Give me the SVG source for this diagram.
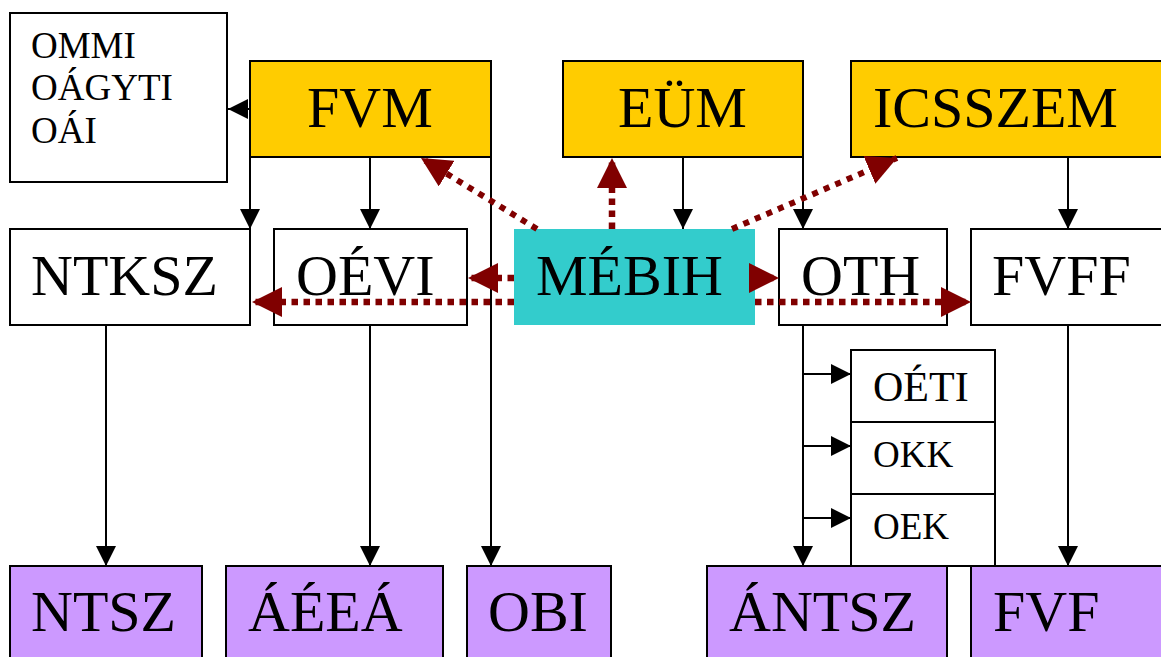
<svg xmlns="http://www.w3.org/2000/svg" width="1161" height="657" viewBox="0 0 1161 657">
<defs>
<style>
.box{stroke:#000;stroke-width:2}
.w{fill:#fff}
.y{fill:#FFCC00}
.p{fill:#CC99FF}
.t{fill:#33CCCC}
text{font-family:"Liberation Serif","Times New Roman",serif;fill:#000}
.L{font-size:58px}
.S{font-size:37px}
.M{font-size:42px}
.c{stroke:#000;stroke-width:2;fill:none;marker-end:url(#ab)}
.d{stroke:#800000;stroke-width:6.5;stroke-dasharray:6.5 5.5;fill:none;marker-end:url(#ar)}
.dd{stroke:#800000;stroke-width:6;stroke-dasharray:6 6.5;fill:none;marker-end:url(#ar)}
</style>
<marker id="ab" markerUnits="userSpaceOnUse" markerWidth="20" markerHeight="20" refX="20" refY="10" orient="auto"><path d="M0,0 L20,10 L0,20 z" fill="#000"/></marker>
<marker id="ar" markerUnits="userSpaceOnUse" markerWidth="30" markerHeight="30" refX="30" refY="15" orient="auto"><path d="M0,0 L30,15 L0,30 z" fill="#800000"/></marker>
</defs>
<rect width="1161" height="657" fill="#fff"/>

<g id="nodes">
<g id="ommi"><rect class="box w" x="10" y="13" width="217" height="169"/><text class="S" x="31" y="58">OMMI</text><text class="S" x="31" y="100">OÁGYTI</text><text class="S" x="31" y="143">OÁI</text></g>
<g id="fvm"><rect class="box y" x="250" y="61" width="241" height="96"/><text class="L" x="307" y="127">FVM</text></g>
<g id="eum"><rect class="box y" x="563" y="61" width="240" height="96"/><text class="L" x="618" y="127">EÜM</text></g>
<g id="icsszem"><rect class="box y" x="851" y="61" width="320" height="96"/><text class="L" x="873" y="127">ICSSZEM</text></g>
<g id="ntksz"><rect class="box w" x="10" y="229" width="240" height="96"/><text class="L" x="31" y="295">NTKSZ</text></g>
<g id="oevi"><rect class="box w" x="274" y="229" width="193" height="96"/><text class="L" x="296" y="295">OÉVI</text></g>
<g id="oth"><rect class="box w" x="779" y="229" width="168" height="96"/><text class="L" x="801" y="295">OTH</text></g>
<g id="fvff"><rect class="box w" x="971" y="229" width="200" height="96"/><text class="L" x="992" y="295">FVFF</text></g>
<g id="oeti"><rect class="box w" x="851" y="350" width="144" height="72"/><text class="M" x="873" y="401">OÉTI</text></g>
<g id="okk"><rect class="box w" x="851" y="422" width="144" height="72"/><text class="S" x="873" y="467">OKK</text></g>
<g id="oek"><rect class="box w" x="851" y="494" width="144" height="72"/><text class="S" x="873" y="539">OEK</text></g>
<g id="ntsz"><rect class="box p" x="10" y="566" width="192" height="120"/><text class="L" x="31" y="631">NTSZ</text></g>
<g id="aeea"><rect class="box p" x="226" y="566" width="217" height="120"/><text class="L" x="248" y="631">ÁÉEÁ</text></g>
<g id="obi"><rect class="box p" x="467" y="566" width="144" height="120"/><text class="L" x="488" y="631">OBI</text></g>
<g id="antsz"><rect class="box p" x="707" y="566" width="240" height="120"/><text class="L" x="729" y="631">ÁNTSZ</text></g>
<g id="fvf"><rect class="box p" x="971" y="566" width="200" height="120"/><text class="L" x="993" y="631">FVF</text></g>
</g>

<g id="connectors">
<line class="c" x1="250" y1="109" x2="228" y2="109"/>
<line class="c" x1="250" y1="157" x2="250" y2="229"/>
<line class="c" x1="370" y1="157" x2="370" y2="229"/>
<line class="c" x1="491" y1="157" x2="491" y2="566"/>
<line class="c" x1="683" y1="157" x2="683" y2="229"/>
<line class="c" x1="803" y1="157" x2="803" y2="229"/>
<line class="c" x1="1068" y1="157" x2="1068" y2="229"/>
<line class="c" x1="106" y1="325" x2="106" y2="566"/>
<line class="c" x1="370" y1="325" x2="370" y2="566"/>
<line class="c" x1="803" y1="325" x2="803" y2="566"/>
<line class="c" x1="803" y1="374" x2="851" y2="374"/>
<line class="c" x1="803" y1="446" x2="851" y2="446"/>
<line class="c" x1="803" y1="518" x2="851" y2="518"/>
<line class="c" x1="1068" y1="325" x2="1068" y2="566"/>
</g>

<g id="mebih"><rect class="t" x="514" y="229" width="241" height="96"/><text class="L" x="536" y="295">MÉBIH</text></g>

<g id="dotted-connectors">
<line class="d" x1="514" y1="278" x2="468" y2="278"/>
<line class="d" x1="514" y1="302" x2="252" y2="302"/>
<line class="d" x1="755" y1="278" x2="779" y2="278"/>
<line class="d" x1="755" y1="302" x2="971" y2="302"/>
<line class="d" x1="612" y1="229" x2="612" y2="158"/>
<line class="dd" x1="537" y1="229" x2="421" y2="158"/>
<line class="dd" x1="732" y1="229" x2="897" y2="158"/>
</g>
</svg>
